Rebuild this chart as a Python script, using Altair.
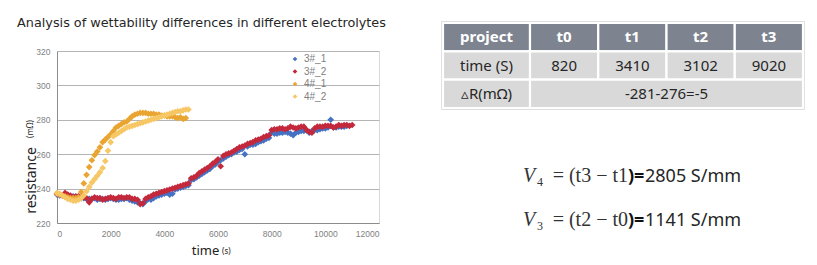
import altair as alt
import pandas as pd

# ---------------- data ----------------
series_names = ["3#_1", "3#_2", "4#_1", "4#_2"]
series_colors = ["#4472c4", "#c3283b", "#e9a531", "#f6c764"]

# 3#_1 : readings every 200 s, then the in-between readings
t_3_1 = [0, 200, 400, 600, 800, 1000, 1200, 1400, 1600, 1800, 2000, 2200, 2400, 2600, 2800,
         3000, 3200, 3400, 3600, 3800, 4000, 4200, 4400, 4600, 4800, 5000, 5200, 5400, 5600,
         5800, 6000, 6200, 6400, 6600, 6800, 7000, 7200, 7400, 7600, 7800, 8000, 8200, 8400,
         8600, 8800, 9000, 9200, 9400, 9600, 9800, 10000, 10200, 10400, 10600, 10800]
r_3_1 = [236.5, 236, 235.5, 235.5, 235, 234.5, 234, 234.5, 234, 233.5, 234.5, 233.5, 234, 234.5,
         233, 232, 231, 234, 234.5, 236, 237, 236.5, 239.5, 240.5, 241.5, 245, 246.5, 248.5,
         250.5, 253, 255.5, 257.5, 259.5, 261, 262.5, 260, 265.5, 266, 267.5, 269, 272.5, 272,
         272.5, 272.5, 271, 273, 273.5, 272.5, 274, 274.5, 275, 280, 275.5, 276, 276.5]
t_3_1b = [100, 300, 500, 700, 900, 1100, 1300, 1500, 1700, 1900, 2100, 2300, 2500, 2700, 2900,
          3100, 3300, 3500, 3700, 3900, 4100, 4300, 4500, 4700, 4900, 5100, 5300, 5500, 5700,
          5900, 6100, 6300, 6500, 6700, 6900, 7100, 7300, 7500, 7700, 7900, 8100, 8300, 8500,
          8700, 8900, 9100, 9300, 9500, 9700, 9900, 10100, 10300, 10500, 10700]
r_3_1b = [236, 236, 235, 235, 234.5, 234, 234, 233.5, 234, 234, 234, 233.5, 234, 233.5, 232.5,
          231.5, 232.5, 233.5, 235.5, 236.5, 237.5, 237, 240, 241, 242, 245.5, 247.5, 249.5,
          251.5, 254, 256.5, 258.5, 260, 261.5, 263, 264.5, 265.5, 267, 268, 269.5, 272, 272.5,
          273, 272, 272.5, 273.5, 274, 273.5, 274, 275, 275.5, 275.5, 276, 276]

# 3#_2
t_3_2 = [0, 200, 400, 600, 800, 1000, 1200, 1400, 1600, 1800, 2000, 2200, 2400, 2600, 2800,
         3000, 3200, 3400, 3600, 3800, 4000, 4200, 4400, 4600, 4800, 5000, 5200, 5400, 5600,
         5800, 6000, 6200, 6400, 6600, 6800, 7000, 7200, 7400, 7600, 7800, 8000, 8200, 8400,
         8600, 8800, 9000, 9200, 9400, 9600, 9800, 10000, 10200, 10400, 10600, 10800, 11000]
r_3_2 = [237, 236, 236.5, 235, 235.5, 235, 232, 235, 234.5, 234, 235, 234, 235, 235, 234,
         233.5, 231.5, 235, 236.5, 237.5, 238.5, 239.5, 240.5, 241.5, 242.5, 246, 247.5, 250,
         252, 254.5, 257, 259, 260.5, 262, 264, 265, 266.5, 268, 269, 270.5, 274, 274.5, 275,
         275, 275.5, 275.5, 276, 273, 275, 276, 276.5, 276.5, 276, 276.5, 277, 277]
t_3_2b = [100, 300, 500, 700, 900, 1100, 1300, 1500, 1700, 1900, 2100, 2300, 2500, 2700, 2900,
          3100, 3300, 3500, 3700, 3900, 4100, 4300, 4500, 4700, 4900, 5100, 5300, 5500, 5700,
          5900, 6100, 6300, 6500, 6700, 6900, 7100, 7300, 7500, 7700, 7900, 8100, 8300, 8500,
          8700, 8900, 9100, 9300, 9500, 9700, 9900, 10100, 10300, 10500, 10700, 10900]
r_3_2b = [236.5, 237.5, 236, 235.5, 235, 234.5, 234, 234.5, 233.5, 234.5, 234.5, 235, 234.5,
          235, 234, 231, 234, 235.5, 237, 238, 239, 240, 241, 242, 243, 246.5, 249, 251, 253,
          255.5, 253, 260, 261, 263, 264.5, 266, 267, 268.5, 270, 271, 274.5, 275, 274.5, 276,
          275, 276, 274, 272.5, 276, 276, 276.5, 275.5, 277, 277, 276.5]

# 4#_1
t_4_1 = [0, 100, 200, 300, 400, 500, 600, 700, 800, 900, 1000, 1100, 1200, 1300, 1400, 1500,
         1600, 1700, 1800, 1900, 2000, 2100, 2200, 2300, 2400, 2500, 2600, 2700, 2800, 2900,
         3000, 3100, 3200, 3300, 3400, 3500, 3600, 3700, 3800, 3900, 4000, 4100, 4200, 4300,
         4400, 4500, 4600, 4700, 4800]
r_4_1 = [237, 236.5, 236, 235.5, 235, 234.5, 234.5, 234.5, 235, 238, 243, 248, 252.5, 256.5,
         259.5, 261.5, 264, 267, 268.5, 270, 271.5, 273.5, 275.5, 276.5, 277.5, 278.5, 279,
         280.5, 282, 283, 283.5, 284, 284, 284, 283.5, 283.5, 283.5, 283, 283, 282.5, 282.5,
         282, 282, 282, 281.5, 281, 281.5, 280.5, 281]

# 4#_2
t_4_2 = [0, 100, 200, 300, 400, 500, 600, 700, 800, 900, 1000, 1100, 1200, 1300, 1400, 1500,
         1600, 1700, 1800, 1900, 2000, 2100, 2200, 2300, 2400, 2500, 2600, 2700, 2800, 2900,
         3000, 3100, 3200, 3300, 3400, 3500, 3600, 3700, 3800, 3900, 4000, 4100, 4200, 4300,
         4400, 4500, 4600, 4700, 4800, 4900]
r_4_2 = [237.5, 237, 236, 235, 234, 233.5, 233, 233, 233.5, 234.5, 236, 238.5, 241, 243.5,
         245.5, 247.5, 249.5, 252, 256, 262, 267, 270.5, 271.5, 272.5, 273.5, 274.5, 275.5,
         276, 276.5, 277, 277.5, 278, 278.5, 279, 279.5, 280, 280.5, 281, 281.5, 282, 282.5,
         283, 283.5, 284, 284.5, 285, 285, 285.5, 286, 286]

x_ticks = [0, 2000, 4000, 6000, 8000, 10000, 12000]
y_ticks = [220, 240, 260, 280, 300, 320]

chart_title = "Analysis of wettability differences in different electrolytes"

table_header = ["project", "t0", "t1", "t2", "t3"]
time_row = ["time (S)", "820", "3410", "3102", "9020"]
delta_label = "\u25b5R(m\u03a9)"
delta_value = "-281-276=-5"

formula_var = ["V", "V"]
formula_sub = ["4", "3"]
formula_expr = ["= (t3 \u2212 t1", "= (t2 \u2212 t0"]
formula_result = ["2805 S/mm", "1141 S/mm"]

# ---------------- tables built from the lists ----------------
rows = []
for name, ts, rs in [("3#_1", t_3_1 + t_3_1b, r_3_1 + r_3_1b),
                     ("3#_2", t_3_2 + t_3_2b, r_3_2 + r_3_2b),
                     ("4#_1", t_4_1, r_4_1), ("4#_2", t_4_2, r_4_2)]:
    for t, r in zip(ts, rs):
        rows.append({"series": name, "t": t, "r": r})
df = pd.DataFrame(rows)

cells = []
for i, s in enumerate(table_header):
    cells.append({"c0": i, "c1": i + 1, "r0": 0, "r1": 1, "label": s})
for i, s in enumerate(time_row):
    cells.append({"c0": i, "c1": i + 1, "r0": 1, "r1": 2, "label": s})
cells.append({"c0": 0, "c1": 1, "r0": 2, "r1": 3, "label": delta_label})
cells.append({"c0": 1, "c1": 5, "r0": 2, "r1": 3, "label": delta_value})
cells_df = pd.DataFrame(cells)
frame_df = pd.DataFrame([{"c0": 0, "c1": len(table_header), "r0": 0, "r1": 3}])

fdf = pd.DataFrame({"row": [0, 1], "var": formula_var, "sub": formula_sub,
                    "expr": formula_expr, "res": formula_result})

SANS = "Noto Sans"
SERIF = "Liberation Serif, DejaVu Serif"

# ---------------- scatter ----------------
scatter = alt.Chart(df).mark_point(shape="diamond", filled=True, size=44, opacity=1).encode(
    x=alt.X("t:Q",
            scale=alt.Scale(domain=[0, 12000], nice=False, zero=False),
            axis=alt.Axis(values=x_ticks, format="d", grid=False, ticks=False, tickSize=0,
                          labelPadding=6, labelFontSize=8.5, labelColor="#7f7f7f",
                          labelFont="Liberation Sans", domainColor="#8c8c8c", title="time",
                          titleFontSize=13, titleFont=SANS, titleFontWeight="normal",
                          titleColor="#222222", titleX=148, titleY=31,
                          titleBaseline="alphabetic", titleAlign="center")),
    y=alt.Y("r:Q",
            scale=alt.Scale(domain=[220, 320], nice=False, zero=False),
            axis=alt.Axis(values=y_ticks, grid=True, gridColor="#b5b5b5", ticks=False, tickSize=0,
                          labelPadding=7, labelFontSize=8.5, labelColor="#7f7f7f",
                          labelFont="Liberation Sans", domainColor="#8c8c8c",
                          title="resistance", titleFontSize=14, titleFont=SANS,
                          titleFontWeight="normal", titleColor="#222222", titleX=-22, titleY=129,
                          titleAlign="center", titleBaseline="alphabetic", titleAngle=270)),
    color=alt.Color("series:N",
                    scale=alt.Scale(domain=series_names, range=series_colors),
                    legend=alt.Legend(orient="none", legendX=233, legendY=3, title=None,
                                      symbolType="diamond", symbolSize=22, labelFontSize=10,
                                      labelColor="#808080", labelFont="Liberation Sans",
                                      rowPadding=2.5, padding=0, symbolStrokeWidth=0)),
)

one = pd.DataFrame({"k": [0]})
title_mark = alt.Chart(one).mark_text(text=chart_title, fontSize=12.8, font="DejaVu Sans",
                                      color="#262626", align="center",
                                      baseline="alphabetic").encode(
    x=alt.value(144.5), y=alt.value(-24))
x_unit = alt.Chart(one).mark_text(text="(s)", fontSize=8, font=SANS, color="#222222",
                                  align="left", baseline="alphabetic").encode(
    x=alt.value(165), y=alt.value(203))
y_unit = alt.Chart(one).mark_text(text="(m\u03a9)", fontSize=8, font=SANS, color="#222222",
                                  angle=270, align="center", baseline="alphabetic").encode(
    x=alt.value(-24), y=alt.value(78))

# ---------------- table ----------------
tx = alt.Scale(domain=[0, 1, 5], range=[386, 473, 746], nice=False, zero=False)
ty = alt.Scale(domain=[0, 3], range=[-28, 57], nice=False, zero=False)

table_frame = alt.Chart(frame_df).mark_rect(fill="white", stroke="#dedede", strokeWidth=1,
                                            xOffset=-1.5, x2Offset=1.5, yOffset=-1.5,
                                            y2Offset=1.5).encode(
    x=alt.X("c0:Q", scale=tx, axis=None), x2="c1:Q",
    y=alt.Y("r0:Q", scale=ty, axis=None), y2="r1:Q")

table_cells = alt.Chart(cells_df).mark_rect(stroke="white", strokeWidth=2.2).encode(
    x=alt.X("c0:Q", scale=tx, axis=None), x2="c1:Q",
    y=alt.Y("r0:Q", scale=ty, axis=None), y2="r1:Q",
    color=alt.condition(alt.datum.r0 == 0, alt.value("#7d838f"), alt.value("#d9d9d9")))

header_text = alt.Chart(cells_df).transform_filter(alt.datum.r0 == 0).transform_calculate(
    cx="(datum.c0 + datum.c1) / 2", cy="(datum.r0 + datum.r1) / 2"
).mark_text(fontSize=15, fontWeight="bold", font=SANS, color="white", baseline="middle").encode(
    x=alt.X("cx:Q", scale=tx, axis=None), y=alt.Y("cy:Q", scale=ty, axis=None), text="label:N")

body_text = alt.Chart(cells_df).transform_filter(alt.datum.r0 > 0).transform_calculate(
    cx="(datum.c0 + datum.c1) / 2", cy="(datum.r0 + datum.r1) / 2"
).mark_text(fontSize=15, font=SANS, color="#262626", baseline="middle").encode(
    x=alt.X("cx:Q", scale=tx, axis=None), y=alt.Y("cy:Q", scale=ty, axis=None), text="label:N")

table = alt.layer(table_frame, table_cells, header_text, body_text)

# ---------------- formulas ----------------
fy = alt.Scale(domain=[0, 1], range=[131, 175], nice=False, zero=False)
fbase = alt.Chart(fdf)
f_var = fbase.mark_text(font=SERIF, fontStyle="italic", fontSize=20, color="#333333",
                        align="left", baseline="alphabetic").encode(
    x=alt.value(466), y=alt.Y("row:Q", scale=fy, axis=None), text="var:N")
f_sub = fbase.mark_text(font=SERIF, fontSize=12, color="#333333", align="left",
                        baseline="alphabetic", dy=4).encode(
    x=alt.value(480), y=alt.Y("row:Q", scale=fy, axis=None), text="sub:N")
f_expr = fbase.mark_text(font=SERIF, fontSize=20, color="#333333", align="right",
                         baseline="alphabetic").encode(
    x=alt.value(571), y=alt.Y("row:Q", scale=fy, axis=None), text="expr:N")
f_eq = fbase.mark_text(font=SANS, fontSize=18, fontWeight="bold", color="#111111", align="left",
                       baseline="alphabetic", text=")=").encode(
    x=alt.value(571), y=alt.Y("row:Q", scale=fy, axis=None))
f_res = fbase.mark_text(font=SANS, fontSize=18, color="#262626", align="left",
                        baseline="alphabetic").encode(
    x=alt.value(588), y=alt.Y("row:Q", scale=fy, axis=None), text="res:N")
formulas = alt.layer(f_var, f_sub, f_expr, f_eq, f_res)

chart = alt.layer(scatter, title_mark, x_unit, y_unit, table, formulas).resolve_scale(
    x="independent", y="independent", color="independent"
).properties(
    width=322, height=172,
    autosize=alt.AutoSizeParams(type="none"),
    padding={"left": 57, "top": 51, "right": 438, "bottom": 42},
    background="white",
).configure_view(stroke="#d9d9d9")

chart.save("out.html", embed_options={"renderer": "svg", "actions": False})
